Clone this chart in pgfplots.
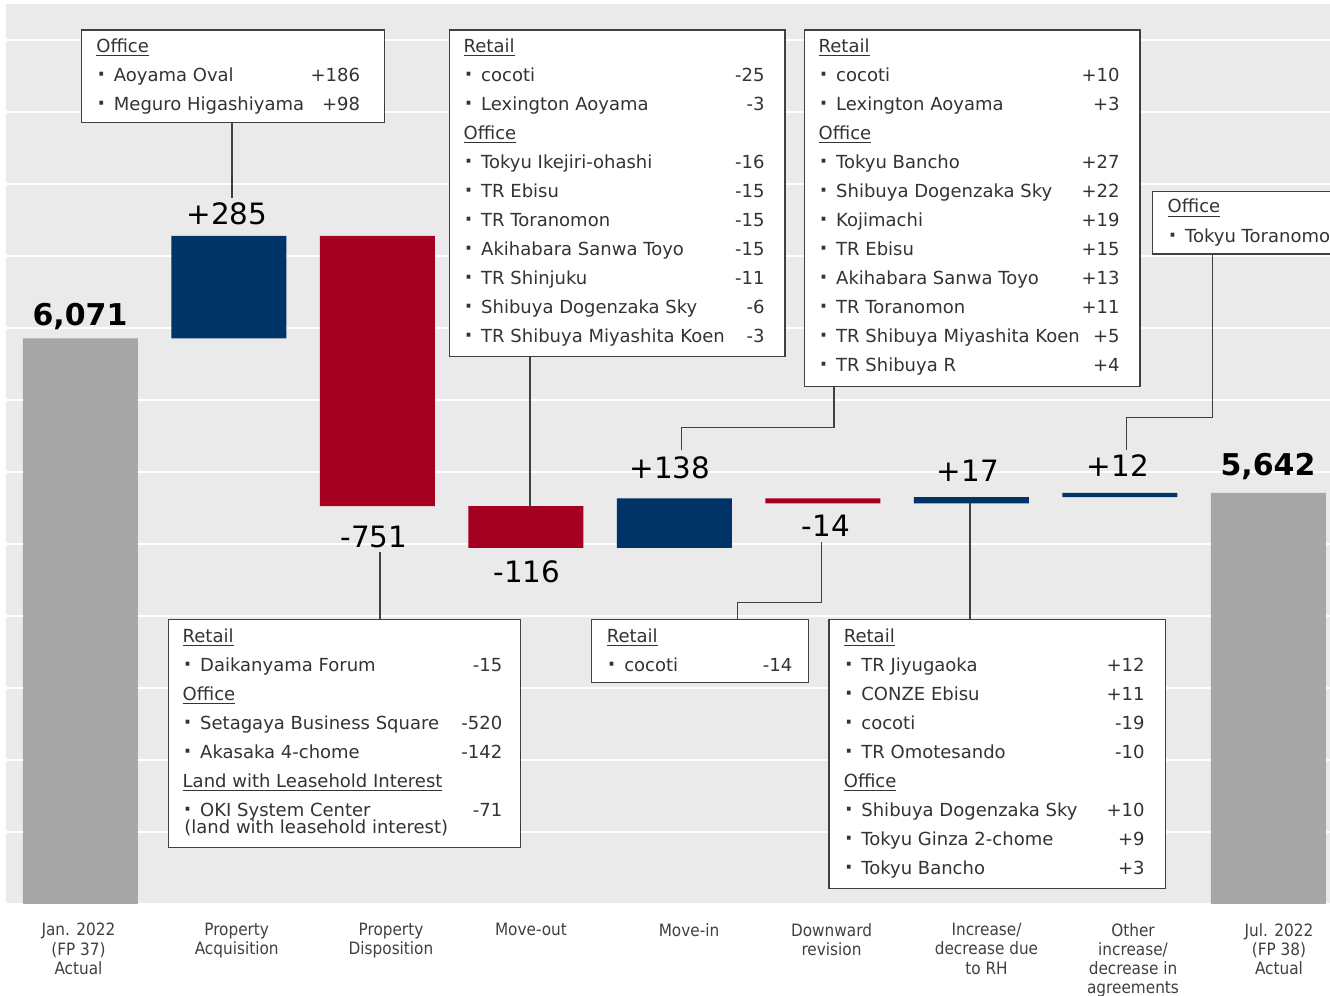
\documentclass[border=0pt]{standalone}
\usepackage{fontspec}
\setmainfont{DejaVu Sans}
\newfontfamily\condfont{DejaVu Sans Condensed}
\usepackage{pgfplots}
\pgfplotsset{compat=1.18}
\usepackage{pgfplotstable}
\definecolor{bgc}{HTML}{EAEAEA}
\definecolor{navyc}{HTML}{003366}
\definecolor{crimc}{HTML}{A50021}
\definecolor{gbar}{HTML}{A6A6A6}
\definecolor{txtc}{HTML}{333333}
\definecolor{labc}{HTML}{404040}
\definecolor{lnc}{HTML}{404040}

\pgfplotstableread{
x base total up down
0 0 6071 0 0
1 6071 0 285 0
2 5605 0 0 751
3 5489 0 0 116
4 5489 0 138 0
5 5613 0 0 14
6 5613 0 17 0
7 5630 0 12 0
8 0 5642 0 0
}\wftable

\newcommand\boxfont{\fontsize{9}{11}\selectfont}
\newcommand\catfont{\condfont\fontsize{8.5}{9.65}\selectfont}
\newcommand\valfont{\fontsize{14.7}{16}\selectfont}
\newcommand\totfont{\bfseries\fontsize{15}{17}\selectfont}
\newcommand\bdot{{\bfseries\fontsize{10.5}{11}\selectfont\char"00B7}}
\newcommand\bh[3]{\node[anchor=base west] at ({#1-1},#2) {\underline{#3}};}
\newcommand\bi[5]{\node[anchor=base] at ({#1+4.3},#2) {\bdot};
  \node[anchor=base west] at ({#1+16.5},#2) {#3};
  \node[anchor=base east] at (#5,#2) {#4};}

\begin{document}
\begin{tikzpicture}
\path[use as bounding box] (0pt,0pt) rectangle (665pt,498pt);
\begin{scope}
\clip (0pt,0pt) rectangle (665pt,498pt);
\begin{axis}[
  at={(3.05pt,46pt)}, anchor=south west, scale only axis,
  width=668.25pt, height=450pt,
  xmin=-0.5, xmax=8.5, ymin=4500, ymax=7000,
  axis background/.style={fill=bgc},
  axis line style={draw=none}, tick style={draw=none},
  ytick={4500,4700,...,6900}, yticklabels={}, xtick=\empty,
  ymajorgrids, grid style={white, line width=1pt},
  ybar stacked, bar width=57.5pt,
]
\addplot[fill=none, draw=none] table[x=x, y=base]{\wftable};
\addplot[fill=gbar, draw=none] table[x=x, y=total]{\wftable};
\addplot[fill=navyc, draw=none] table[x=x, y=up]{\wftable};
\addplot[fill=crimc, draw=none] table[x=x, y=down]{\wftable};
\end{axis}

\begin{scope}[yshift=498pt, x=0.5pt, y=-0.5pt]
\begin{scope}[lnc, line width=0.7pt]
\draw (232,122.3) -- (232,198);
\draw (380,551.7) -- (380,619.3);
\draw (530,356.7) -- (530,507);
\draw (834,386.7) -- (834,427.3) -- (681.7,427.3) -- (681.7,450);
\draw (821.2,541.7) -- (821.2,602.7) -- (737.2,602.7) -- (737.2,619.3);
\draw (970,503.3) -- (970,619.3);
\draw (1212.7,254) -- (1212.7,417.3) -- (1126.7,417.3) -- (1126.7,450);
\end{scope}
\begin{scope}[draw=lnc, fill=white, line width=0.6pt]
\filldraw (81.7,30) rectangle (384.3,122.3);
\filldraw (168.3,619.3) rectangle (520.7,847.3);
\filldraw (449.3,30) rectangle (785,356.7);
\filldraw (804.3,30) rectangle (1140,386.7);
\filldraw (591.8,619.3) rectangle (808.3,682.3);
\filldraw (829,619.3) rectangle (1165.3,888.3);
\filldraw (1152.7,191.7) rectangle (1400,254);
\end{scope}
\begin{scope}[every node/.style={inner sep=0pt, font=\boxfont, text=txtc}]
\bh{97}{52.5}{Office}
\bi{97}{81.5}{Aoyama Oval}{+186}{360.5}
\bi{97}{110.5}{Meguro Higashiyama}{+98}{360.5}
\bh{183.3}{642.5}{Retail}
\bi{183.3}{671.5}{Daikanyama Forum}{-15}{502.7}
\bh{183.3}{700.5}{Office}
\bi{183.3}{729.5}{Setagaya Business Square}{-520}{502.7}
\bi{183.3}{758.5}{Akasaka 4-chome}{-142}{502.7}
\bh{183.3}{787.5}{Land with Leasehold Interest}
\bi{183.3}{816.5}{OKI System Center}{-71}{502.7}
\node[anchor=base west] at (184,834) {(land with leasehold interest)};
\bh{464.3}{52.5}{Retail}
\bi{464.3}{81.5}{cocoti}{-25}{765}
\bi{464.3}{110.5}{Lexington Aoyama}{-3}{765}
\bh{464.3}{139.5}{Office}
\bi{464.3}{168.5}{Tokyu Ikejiri-ohashi}{-16}{765}
\bi{464.3}{197.5}{TR Ebisu}{-15}{765}
\bi{464.3}{226.5}{TR Toranomon}{-15}{765}
\bi{464.3}{255.5}{Akihabara Sanwa Toyo}{-15}{765}
\bi{464.3}{284.5}{TR Shinjuku}{-11}{765}
\bi{464.3}{313.5}{Shibuya Dogenzaka Sky}{-6}{765}
\bi{464.3}{342.5}{TR Shibuya Miyashita Koen}{-3}{765}
\bh{819.3}{52.5}{Retail}
\bi{819.3}{81.5}{cocoti}{+10}{1120}
\bi{819.3}{110.5}{Lexington Aoyama}{+3}{1120}
\bh{819.3}{139.5}{Office}
\bi{819.3}{168.5}{Tokyu Bancho}{+27}{1120}
\bi{819.3}{197.5}{Shibuya Dogenzaka Sky}{+22}{1120}
\bi{819.3}{226.5}{Kojimachi}{+19}{1120}
\bi{819.3}{255.5}{TR Ebisu}{+15}{1120}
\bi{819.3}{284.5}{Akihabara Sanwa Toyo}{+13}{1120}
\bi{819.3}{313.5}{TR Toranomon}{+11}{1120}
\bi{819.3}{342.5}{TR Shibuya Miyashita Koen}{+5}{1120}
\bi{819.3}{371.5}{TR Shibuya R}{+4}{1120}
\bh{607.4}{642.5}{Retail}
\bi{607.4}{671.5}{cocoti}{-14}{792.7}
\bh{844.5}{642.5}{Retail}
\bi{844.5}{671.5}{TR Jiyugaoka}{+12}{1145}
\bi{844.5}{700.5}{CONZE Ebisu}{+11}{1145}
\bi{844.5}{729.5}{cocoti}{-19}{1145}
\bi{844.5}{758.5}{TR Omotesando}{-10}{1145}
\bh{844.5}{787.5}{Office}
\bi{844.5}{816.5}{Shibuya Dogenzaka Sky}{+10}{1145}
\bi{844.5}{845.5}{Tokyu Ginza 2-chome}{+9}{1145}
\bi{844.5}{874.5}{Tokyu Bancho}{+3}{1145}
\bh{1168.3}{213}{Office}
\node[anchor=base] at (1172.6,242.5) {\bdot};
\node[anchor=base west] at (1184.8,242.5) {Tokyu Toranomon};
\end{scope}
\begin{scope}[every node/.style={inner sep=0pt, text=black, anchor=base}]
\node[font=\totfont] at (80,325.5) {6,071};
\node[font=\valfont] at (227,225) {+285};
\node[font=\valfont] at (374,548) {-751};
\node[font=\valfont] at (527,582.7) {-116};
\node[font=\valfont] at (670,479) {+138};
\node[font=\valfont] at (826,537) {-14};
\node[font=\valfont] at (968,482) {+17};
\node[font=\valfont] at (1118,477) {+12};
\node[font=\totfont] at (1268,475.5) {5,642};
\end{scope}
\begin{scope}[every node/.style={inner sep=0pt, font=\catfont, text=labc, align=center, anchor=north}]
\node at (78.5,922.7) {Jan. 2022\\(FP 37)\\Actual};
\node at (236.7,922.7) {Property\\Acquisition};
\node at (391,922.7) {Property\\Disposition};
\node at (531,922.7) {Move-out};
\node at (689,922.7) {Move-in};
\node at (831.5,922.7) {Downward\\revision};
\node at (986.5,922.7) {Increase/\\decrease due\\to RH};
\node at (1133,922.7) {Other\\increase/\\decrease in\\agreements};
\node at (1279,922.7) {Jul. 2022\\(FP 38)\\Actual};
\end{scope}
\end{scope}
\end{scope}
\end{tikzpicture}
\end{document}
